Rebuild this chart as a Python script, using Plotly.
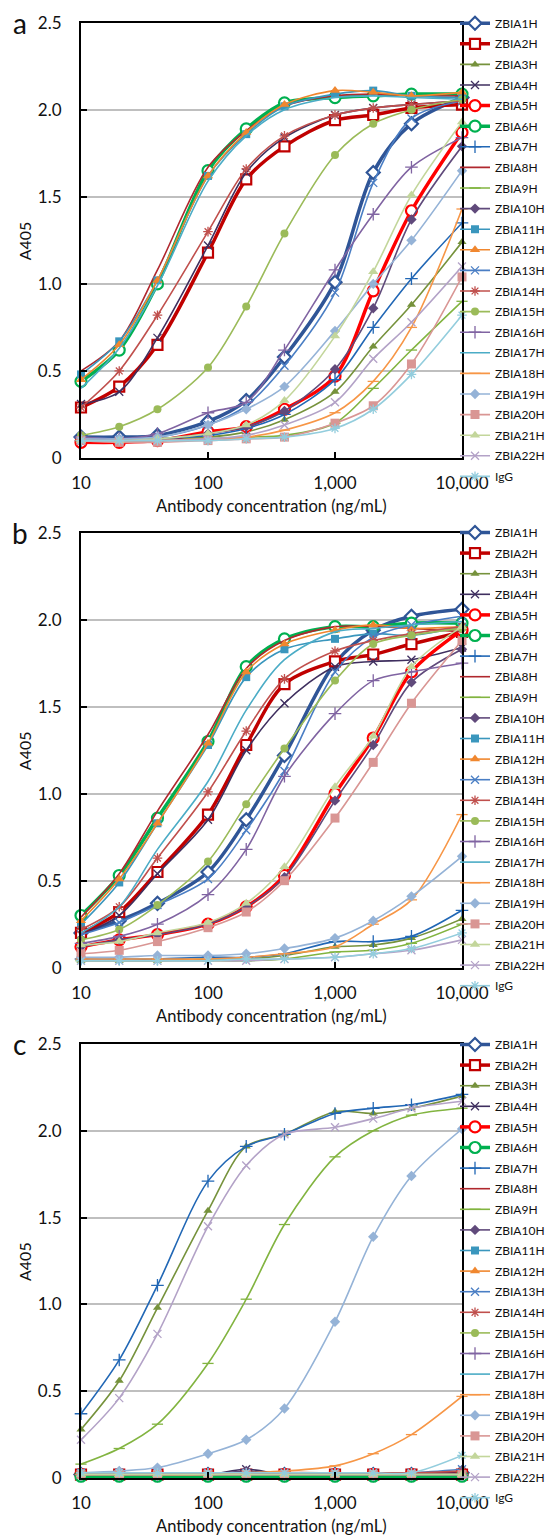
import plotly.graph_objects as go

# ---------------- data ----------------
conc = [10, 20, 40, 100, 200, 400, 1000, 2000, 4000, 10000]

series_names = ["ZBIA1H", "ZBIA2H", "ZBIA3H", "ZBIA4H", "ZBIA5H", "ZBIA6H", "ZBIA7H",
                "ZBIA8H", "ZBIA9H", "ZBIA10H", "ZBIA11H", "ZBIA12H", "ZBIA13H", "ZBIA14H",
                "ZBIA15H", "ZBIA16H", "ZBIA17H", "ZBIA18H", "ZBIA19H", "ZBIA20H", "ZBIA21H",
                "ZBIA22H", "IgG"]

panel_a = {
    "ZBIA1H":  [0.12, 0.12, 0.13, 0.21, 0.33, 0.58, 1.01, 1.64, 1.92, 2.07],
    "ZBIA2H":  [0.29, 0.41, 0.65, 1.18, 1.60, 1.79, 1.94, 1.97, 2.01, 2.03],
    "ZBIA3H":  [0.11, 0.10, 0.11, 0.12, 0.15, 0.22, 0.38, 0.64, 0.88, 1.24],
    "ZBIA4H":  [0.31, 0.38, 0.69, 1.22, 1.64, 1.84, 1.97, 2.01, 2.03, 2.05],
    "ZBIA5H":  [0.09, 0.09, 0.10, 0.15, 0.18, 0.28, 0.47, 0.96, 1.42, 1.87],
    "ZBIA6H":  [0.44, 0.62, 1.00, 1.65, 1.89, 2.04, 2.07, 2.08, 2.09, 2.09],
    "ZBIA7H":  [0.10, 0.10, 0.11, 0.13, 0.17, 0.25, 0.45, 0.75, 1.03, 1.35],
    "ZBIA8H":  [0.50, 0.67, 1.08, 1.67, 1.88, 2.02, 2.08, 2.09, 2.08, 2.08],
    "ZBIA9H":  [0.10, 0.10, 0.10, 0.11, 0.12, 0.13, 0.20, 0.40, 0.62, 0.90],
    "ZBIA10H": [0.11, 0.11, 0.11, 0.14, 0.18, 0.27, 0.51, 0.86, 1.37, 1.79],
    "ZBIA11H": [0.48, 0.67, 1.02, 1.62, 1.86, 2.02, 2.09, 2.11, 2.08, 2.07],
    "ZBIA12H": [0.45, 0.65, 1.02, 1.62, 1.87, 2.03, 2.11, 2.10, 2.08, 2.10],
    "ZBIA13H": [0.12, 0.11, 0.12, 0.19, 0.30, 0.53, 0.95, 1.58, 1.95, 2.05],
    "ZBIA14H": [0.29, 0.50, 0.82, 1.30, 1.66, 1.85, 1.97, 2.01, 2.03, 2.05],
    "ZBIA15H": [0.13, 0.18, 0.28, 0.52, 0.87, 1.29, 1.74, 1.92, 2.00, 2.06],
    "ZBIA16H": [0.12, 0.11, 0.14, 0.26, 0.32, 0.62, 1.08, 1.40, 1.67, 1.84],
    "ZBIA17H": [0.40, 0.63, 0.99, 1.59, 1.85, 2.00, 2.07, 2.08, 2.07, 2.06],
    "ZBIA18H": [0.10, 0.10, 0.10, 0.11, 0.12, 0.16, 0.26, 0.44, 0.75, 1.43],
    "ZBIA19H": [0.11, 0.11, 0.12, 0.19, 0.28, 0.41, 0.73, 1.00, 1.25, 1.65],
    "ZBIA20H": [0.10, 0.09, 0.09, 0.10, 0.11, 0.12, 0.20, 0.30, 0.54, 1.04],
    "ZBIA21H": [0.10, 0.10, 0.11, 0.14, 0.19, 0.33, 0.70, 1.07, 1.51, 1.93],
    "ZBIA22H": [0.10, 0.10, 0.10, 0.11, 0.13, 0.19, 0.32, 0.57, 0.78, 1.10],
    "IgG":     [0.10, 0.10, 0.10, 0.10, 0.11, 0.12, 0.17, 0.28, 0.48, 0.82],
}

panel_b = {
    "ZBIA1H":  [0.20, 0.27, 0.37, 0.55, 0.85, 1.22, 1.75, 1.94, 2.02, 2.06],
    "ZBIA2H":  [0.20, 0.32, 0.55, 0.88, 1.28, 1.63, 1.76, 1.80, 1.86, 1.93],
    "ZBIA3H":  [0.04, 0.04, 0.04, 0.05, 0.05, 0.07, 0.12, 0.13, 0.17, 0.28],
    "ZBIA4H":  [0.19, 0.30, 0.54, 0.85, 1.25, 1.52, 1.73, 1.76, 1.77, 1.84],
    "ZBIA5H":  [0.12, 0.16, 0.19, 0.25, 0.35, 0.53, 1.00, 1.32, 1.70, 1.94],
    "ZBIA6H":  [0.30, 0.53, 0.86, 1.30, 1.73, 1.89, 1.96, 1.96, 1.98, 1.98],
    "ZBIA7H":  [0.05, 0.05, 0.05, 0.06, 0.06, 0.08, 0.15, 0.15, 0.18, 0.33],
    "ZBIA8H":  [0.29, 0.54, 0.90, 1.34, 1.72, 1.88, 1.96, 1.96, 1.95, 1.93],
    "ZBIA9H":  [0.04, 0.04, 0.04, 0.04, 0.04, 0.05, 0.09, 0.10, 0.14, 0.25],
    "ZBIA10H": [0.12, 0.16, 0.19, 0.25, 0.35, 0.52, 0.96, 1.28, 1.64, 1.83],
    "ZBIA11H": [0.25, 0.49, 0.83, 1.28, 1.67, 1.83, 1.89, 1.92, 1.91, 1.96],
    "ZBIA12H": [0.27, 0.51, 0.83, 1.29, 1.70, 1.86, 1.94, 1.97, 1.95, 1.96],
    "ZBIA13H": [0.19, 0.26, 0.36, 0.51, 0.79, 1.13, 1.70, 1.90, 1.97, 2.02],
    "ZBIA14H": [0.22, 0.35, 0.63, 1.01, 1.36, 1.66, 1.82, 1.88, 1.92, 1.96],
    "ZBIA15H": [0.16, 0.22, 0.36, 0.61, 0.94, 1.26, 1.65, 1.86, 1.91, 1.95],
    "ZBIA16H": [0.14, 0.18, 0.25, 0.42, 0.68, 1.10, 1.46, 1.65, 1.70, 1.75],
    "ZBIA17H": [0.20, 0.35, 0.68, 1.07, 1.48, 1.77, 1.93, 1.95, 1.97, 1.99],
    "ZBIA18H": [0.05, 0.05, 0.05, 0.05, 0.06, 0.08, 0.12, 0.25, 0.39, 0.88],
    "ZBIA19H": [0.06, 0.06, 0.07, 0.07, 0.08, 0.11, 0.17, 0.27, 0.41, 0.64],
    "ZBIA20H": [0.08, 0.10, 0.15, 0.23, 0.32, 0.50, 0.86, 1.18, 1.52, 1.88],
    "ZBIA21H": [0.13, 0.15, 0.20, 0.26, 0.37, 0.58, 1.04, 1.33, 1.73, 1.96],
    "ZBIA22H": [0.04, 0.04, 0.04, 0.04, 0.04, 0.05, 0.06, 0.08, 0.10, 0.16],
    "IgG":     [0.04, 0.04, 0.04, 0.04, 0.05, 0.05, 0.06, 0.08, 0.11, 0.20],
}

panel_c = {
    "ZBIA1H":  [0.02, 0.02, 0.02, 0.02, 0.02, 0.02, 0.02, 0.02, 0.02, 0.03],
    "ZBIA2H":  [0.02, 0.02, 0.02, 0.02, 0.02, 0.02, 0.02, 0.02, 0.02, 0.02],
    "ZBIA3H":  [0.28, 0.56, 0.98, 1.54, 1.91, 1.98, 2.11, 2.10, 2.13, 2.20],
    "ZBIA4H":  [0.02, 0.02, 0.02, 0.02, 0.05, 0.02, 0.02, 0.02, 0.02, 0.03],
    "ZBIA5H":  [0.02, 0.02, 0.02, 0.02, 0.02, 0.02, 0.02, 0.02, 0.02, 0.02],
    "ZBIA6H":  [0.01, 0.01, 0.01, 0.01, 0.01, 0.01, 0.01, 0.01, 0.01, 0.01],
    "ZBIA7H":  [0.37, 0.68, 1.11, 1.71, 1.91, 1.98, 2.10, 2.13, 2.15, 2.21],
    "ZBIA8H":  [0.02, 0.02, 0.02, 0.02, 0.02, 0.02, 0.02, 0.02, 0.02, 0.02],
    "ZBIA9H":  [0.08, 0.17, 0.31, 0.66, 1.03, 1.46, 1.85, 2.00, 2.09, 2.13],
    "ZBIA10H": [0.02, 0.02, 0.02, 0.02, 0.04, 0.02, 0.02, 0.02, 0.02, 0.02],
    "ZBIA11H": [0.02, 0.02, 0.02, 0.02, 0.02, 0.02, 0.02, 0.02, 0.02, 0.02],
    "ZBIA12H": [0.02, 0.02, 0.02, 0.02, 0.02, 0.02, 0.02, 0.02, 0.02, 0.02],
    "ZBIA13H": [0.03, 0.03, 0.03, 0.03, 0.03, 0.03, 0.03, 0.03, 0.03, 0.05],
    "ZBIA14H": [0.02, 0.02, 0.02, 0.02, 0.02, 0.03, 0.03, 0.03, 0.03, 0.04],
    "ZBIA15H": [0.02, 0.02, 0.02, 0.02, 0.02, 0.02, 0.02, 0.02, 0.02, 0.02],
    "ZBIA16H": [0.02, 0.02, 0.02, 0.02, 0.02, 0.02, 0.02, 0.02, 0.02, 0.02],
    "ZBIA17H": [0.02, 0.02, 0.02, 0.02, 0.02, 0.02, 0.02, 0.02, 0.02, 0.02],
    "ZBIA18H": [0.02, 0.02, 0.02, 0.02, 0.03, 0.04, 0.07, 0.14, 0.25, 0.47],
    "ZBIA19H": [0.03, 0.04, 0.06, 0.14, 0.22, 0.40, 0.90, 1.39, 1.74, 2.01],
    "ZBIA20H": [0.02, 0.02, 0.02, 0.02, 0.02, 0.02, 0.02, 0.02, 0.02, 0.02],
    "ZBIA21H": [0.02, 0.02, 0.02, 0.02, 0.02, 0.02, 0.02, 0.02, 0.02, 0.02],
    "ZBIA22H": [0.22, 0.46, 0.83, 1.45, 1.80, 1.98, 2.02, 2.07, 2.13, 2.17],
    "IgG":     [0.03, 0.03, 0.03, 0.03, 0.03, 0.03, 0.03, 0.03, 0.03, 0.13],
}

x_tick_vals = [10, 100, 1000, 10000]
x_tick_text = ["10", "100", "1,000", "10,000"]
y_tick_vals = [0, 0.5, 1.0, 1.5, 2.0, 2.5]
y_tick_text = ["0", "0.5", "1.0", "1.5", "2.0", "2.5"]
panel_letters = ["a", "b", "c"]
x_title = "Antibody concentration (ng/mL)"
y_title = "A405"

# ---------------- styles ----------------
# (color, line width, marker symbol, marker size, marker kind)
STYLE = {
    "ZBIA1H":  ("#2F5597", 3.5, "diamond", 10, "open"),
    "ZBIA2H":  ("#C00000", 3.5, "square", 10, "open"),
    "ZBIA3H":  ("#76923C", 1.6, "triangle-up", 8, "fill"),
    "ZBIA4H":  ("#3F2F5F", 1.6, "x-thin", 8, "thin"),
    "ZBIA5H":  ("#FF0000", 3.5, "circle", 11, "open"),
    "ZBIA6H":  ("#00B050", 3.5, "circle", 11, "open"),
    "ZBIA7H":  ("#2167B5", 1.6, "cross-thin", 9, "thin"),
    "ZBIA8H":  ("#B0282E", 1.6, None, 0, None),
    "ZBIA9H":  ("#82B440", 1.6, "line-ew", 8, "thin"),
    "ZBIA10H": ("#604A7B", 1.6, "diamond", 8, "fill"),
    "ZBIA11H": ("#3A96BD", 1.6, "square", 8, "fill"),
    "ZBIA12H": ("#F0872F", 1.6, "triangle-up", 9, "fill"),
    "ZBIA13H": ("#4A7EC4", 1.6, "x-thin", 8, "thin"),
    "ZBIA14H": ("#C0504D", 1.6, "asterisk", 8, "thin"),
    "ZBIA15H": ("#9BBB59", 1.6, "circle", 8, "fill"),
    "ZBIA16H": ("#8064A2", 1.6, "cross-thin", 9, "thin"),
    "ZBIA17H": ("#4BACC6", 1.6, None, 0, None),
    "ZBIA18H": ("#F79646", 1.6, "line-ew", 8, "thin"),
    "ZBIA19H": ("#95B3D7", 1.6, "diamond", 8, "fill"),
    "ZBIA20H": ("#D99694", 1.6, "square", 9, "fill"),
    "ZBIA21H": ("#C3D69B", 1.6, "triangle-up", 9, "fill"),
    "ZBIA22H": ("#B3A2C7", 1.6, "x-thin", 8, "thin"),
    "IgG":     ("#93CDDD", 1.6, "asterisk", 8, "thin"),
}

W, H = 547, 1535
ML, MR = 81, 85
PLOT_W = W - ML - MR
PANEL_PX = [(22.7, 458.0), (532.7, 967.7), (1044.0, 1478.0)]
LEGEND_FIRST_PX = [20.7, 530.0, 1042.0]

FONT = "Lato, 'Open Sans', sans-serif"

def px_to_xpaper(px):
    return (px - ML) / PLOT_W

def px_to_ypaper(py):
    return 1 - py / H

fig = go.Figure()
panels = [panel_a, panel_b, panel_c]
legend_keys = ["legend", "legend2", "legend3"]

for pi, data in enumerate(panels):
    xa = "x" if pi == 0 else f"x{pi+1}"
    ya = "y" if pi == 0 else f"y{pi+1}"
    for name in series_names:
        color, lw, sym, msize, kind = STYLE[name]
        tr = dict(
            x=conc, y=data[name], name=name,
            xaxis=xa, yaxis=ya,
            legend=legend_keys[pi],
            legendgroup=f"{pi}-{name}",
            line=dict(color=color, width=lw, shape="spline", smoothing=0.9),
            cliponaxis=False,
            hoverinfo="skip",
        )
        if kind is None:
            tr["mode"] = "lines"
        else:
            tr["mode"] = "lines+markers"
            if kind == "open":
                tr["marker"] = dict(symbol=sym, size=msize, color="white",
                                    line=dict(color=color, width=2.2))
            elif kind == "fill":
                tr["marker"] = dict(symbol=sym, size=msize, color=color,
                                    line=dict(color=color, width=0))
            else:
                tr["marker"] = dict(symbol=sym, size=msize, color=color,
                                    line=dict(color=color, width=1.3))
        fig.add_trace(go.Scatter(**tr))

layout = dict(
    width=W, height=H,
    margin=dict(l=ML, r=MR, t=0, b=0, autoexpand=False),
    paper_bgcolor="white", plot_bgcolor="white",
    font=dict(family=FONT, color="#111111"),
    showlegend=True,
)

annotations = []
for pi in range(3):
    top, bot = PANEL_PX[pi]
    xkey = "xaxis" if pi == 0 else f"xaxis{pi+1}"
    ykey = "yaxis" if pi == 0 else f"yaxis{pi+1}"
    anchor_x = "y" if pi == 0 else f"y{pi+1}"
    anchor_y = "x" if pi == 0 else f"x{pi+1}"
    layout[xkey] = dict(
        type="log", range=[1, 4], domain=[0, 1], anchor=anchor_x,
        tickmode="array", tickvals=x_tick_vals, ticktext=x_tick_text,
        ticks="inside", ticklen=6, tickwidth=1.5, tickcolor="black",
        showline=True, linecolor="black", linewidth=2, mirror=True,
        showgrid=False, zeroline=False,
        tickfont=dict(family=FONT, size=17, color="#111111"),
        ticklabelstandoff=9,
    )
    layout[ykey] = dict(
        range=[0, 2.5], domain=[px_to_ypaper(bot), px_to_ypaper(top)], anchor=anchor_y,
        tickmode="array", tickvals=y_tick_vals, ticktext=y_tick_text,
        ticks="inside", ticklen=6, tickwidth=1.5, tickcolor="black",
        showline=True, linecolor="black", linewidth=2, mirror=True,
        showgrid=True, gridcolor="#BFBFBF", gridwidth=1.5, zeroline=False,
        tickfont=dict(family=FONT, size=17, color="#111111"),
        ticklabelstandoff=14,
    )
    layout[legend_keys[pi]] = dict(
        x=px_to_xpaper(455), xanchor="left",
        y=px_to_ypaper(LEGEND_FIRST_PX[pi] - 12), yanchor="top",
        bgcolor="rgba(0,0,0,0)", borderwidth=0,
        font=dict(family=FONT, size=12, color="#111111"),
        tracegroupgap=1.6,
        traceorder="grouped",
        itemclick=False, itemdoubleclick=False,
    )
    annotations.append(dict(
        text=panel_letters[pi], xref="paper", yref="paper",
        x=px_to_xpaper(20), y=px_to_ypaper(top), xanchor="center", yanchor="middle",
        showarrow=False, font=dict(family=FONT, size=28, color="#111111")))
    annotations.append(dict(
        text=y_title, xref="paper", yref="paper", textangle=-90,
        x=px_to_xpaper(24), y=px_to_ypaper((top + bot) / 2), xanchor="center", yanchor="middle",
        showarrow=False, font=dict(family=FONT, size=16, color="#111111")))
    annotations.append(dict(
        text=x_title, xref="paper", yref="paper",
        x=0.5, y=px_to_ypaper(bot + 48), xanchor="center", yanchor="middle",
        showarrow=False, font=dict(family=FONT, size=16.5, color="#111111")))

layout["annotations"] = annotations
fig.update_layout(**layout)

fig.write_html("out.html", config={"displayModeBar": False},
               post_script="document.body.style.margin='0';")
